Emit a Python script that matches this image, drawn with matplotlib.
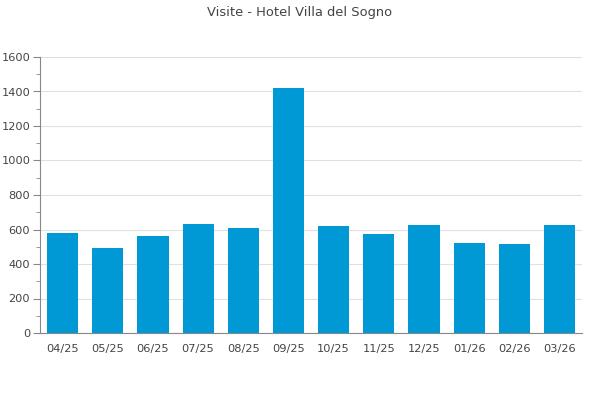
import matplotlib
matplotlib.use("Agg")
import matplotlib.pyplot as plt
from matplotlib.ticker import MultipleLocator

months = ["04/25", "05/25", "06/25", "07/25", "08/25", "09/25",
          "10/25", "11/25", "12/25", "01/26", "02/26", "03/26"]
visits = [580, 493, 562, 632, 609, 1422, 620, 574, 626, 522, 516, 626]

fig = plt.figure(figsize=(6, 4), dpi=100)
ax = fig.add_axes([0.0667, 0.1675, 0.9033, 0.69])

x = list(range(len(months)))
ax.bar(x, visits, width=0.69, color="#0099d6", zorder=3)
ax.set_xlim(-0.5, len(months) - 0.5)
ax.set_ylim(0, 1600)
ax.set_xticks(x)
ax.set_xticklabels(months)
ax.yaxis.set_major_locator(MultipleLocator(200))
ax.yaxis.set_minor_locator(MultipleLocator(100))
ax.grid(axis="y", color="#e0e0e0", linewidth=0.8, zorder=0)

for s in ["top", "right"]:
    ax.spines[s].set_visible(False)
ax.spines["left"].set_color("#888888")
ax.spines["bottom"].set_color("#888888")
ax.tick_params(axis="y", which="major", length=5, color="#888888", labelsize=8.2, labelcolor="#444444", pad=2)
ax.tick_params(axis="y", which="minor", length=3, color="#888888")
ax.tick_params(axis="x", length=0, labelsize=8.2, labelcolor="#444444", pad=8)

fig.text(0.5, 0.968, "Visite - Hotel Villa del Sogno", ha="center", va="center",
         fontsize=9.4, color="#444444")

fig.savefig("out.png", dpi=100)
